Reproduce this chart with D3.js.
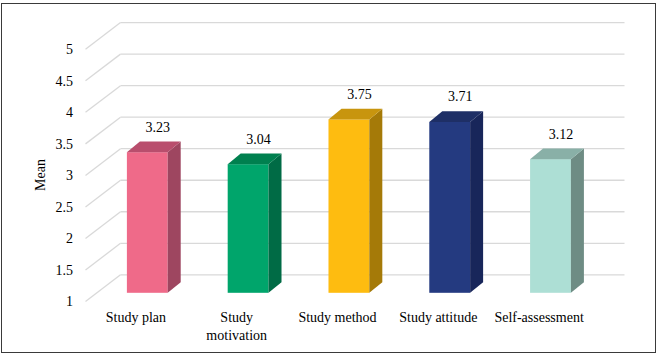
<!DOCTYPE html>
<html>
<head>
<meta charset="utf-8">
<script src="https://cdn.jsdelivr.net/npm/d3@7"></script>
<style>
  html, body { margin: 0; padding: 0; background: #fff; }
  svg { display: block; }
</style>
</head>
<body>
<svg id="chart" width="661" height="355"></svg>
<script>
const categories = ["Study plan", "Study motivation", "Study method", "Study attitude", "Self-assessment"];
const categoryLines = [["Study plan"], ["Study", "motivation"], ["Study method"], ["Study attitude"], ["Self-assessment"]];
const values = [3.23, 3.04, 3.75, 3.71, 3.12];
const valueLabels = ["3.23", "3.04", "3.75", "3.71", "3.12"];
const yTicks = [1, 1.5, 2, 2.5, 3, 3.5, 4, 4.5, 5];
const yTickLabels = ["1", "1.5", "2", "2.5", "3", "3.5", "4", "4.5", "5"];
const frontColors = ["#EF6A89", "#00A56B", "#FEBC10", "#243A80", "#ADDFD5"];
const topColors   = ["#B94E6D", "#00804F", "#C8950E", "#1E2F66", "#89B0A7"];
const sideColors  = ["#9E4660", "#006B45", "#A57A08", "#18265A", "#6E8C84"];

const FONT = "'Liberation Serif', 'Times New Roman', Times, 'DejaVu Serif', serif";
const svg = d3.select("#chart").attr("font-family", FONT);

// outer frame
svg.append("rect").attr("x", 1.5).attr("y", 3.5).attr("width", 654).attr("height", 349)
  .attr("fill", "#fff").attr("stroke", "#3a3a3a").attr("stroke-width", 1);

// 3D geometry
const depthX = 35, depthY = -26.7;         // full chart depth
const barOffX = 11.4, barOffY = -8.7;       // bar front plane offset
const barDX = 13, barDY = -10.6;            // bar depth

const y = d3.scaleLinear().domain([1, 5]).range([301.5, 49.3]);
const x = d3.scaleBand().domain(categories).range([85.5, 589.5]).padding(0);
const barW = x.bandwidth() * 0.405;

const grid = svg.append("g").attr("stroke", "#D9D9D9").attr("stroke-width", 1.3).attr("fill", "none");
yTicks.forEach(t => {
  const yy = y(t);
  grid.append("line")
    .attr("x1", x.range()[0] + depthX).attr("x2", x.range()[1] + depthX)
    .attr("y1", yy + depthY).attr("y2", yy + depthY);
  grid.append("line")
    .attr("x1", x.range()[0]).attr("y1", yy)
    .attr("x2", x.range()[0] + depthX).attr("y2", yy + depthY);
});

// y tick labels
svg.append("g").selectAll("text").data(yTicks).join("text")
  .attr("x", 73).attr("y", d => y(d)).attr("dy", "0.35em")
  .attr("text-anchor", "end").attr("font-size", 14).attr("font-family", FONT)
  .text((d, i) => yTickLabels[i]);

// axis title
svg.append("text")
  .attr("transform", "translate(45,175) rotate(-90)")
  .attr("text-anchor", "middle").attr("font-size", 14).attr("font-family", FONT)
  .text("Mean");

// bars
const bars = svg.append("g");
categories.forEach((c, i) => {
  const cx = x(c) + x.bandwidth() / 2 + barOffX;
  const x0 = cx - barW / 2, x1 = cx + barW / 2;
  const yb = y(1) + barOffY;
  const yt = y(values[i]) + barOffY;
  bars.append("rect").attr("x", x0).attr("y", yt).attr("width", barW).attr("height", yb - yt)
    .attr("fill", frontColors[i]);
  bars.append("path")
    .attr("d", `M${x1},${yt}L${x1 + barDX},${yt + barDY}L${x1 + barDX},${yb + barDY}L${x1},${yb}Z`)
    .attr("fill", sideColors[i]);
  bars.append("path")
    .attr("d", `M${x0},${yt}L${x0 + barDX},${yt + barDY}L${x1 + barDX},${yt + barDY}L${x1},${yt}Z`)
    .attr("fill", topColors[i]);
  bars.append("text")
    .attr("x", cx + 10.5).attr("y", yt + barDY - 10)
    .attr("text-anchor", "middle").attr("font-size", 14).attr("font-family", FONT)
    .text(valueLabels[i]);
});

// category labels
const xl = svg.append("g");
categories.forEach((c, i) => {
  const t = xl.append("text")
    .attr("x", x(c) + x.bandwidth() / 2).attr("y", 322)
    .attr("text-anchor", "middle").attr("font-size", 14).attr("font-family", FONT);
  categoryLines[i].forEach((ln, j) => {
    t.append("tspan").attr("x", x(c) + x.bandwidth() / 2).attr("dy", j === 0 ? 0 : 18).text(ln);
  });
});
</script>
</body>
</html>
